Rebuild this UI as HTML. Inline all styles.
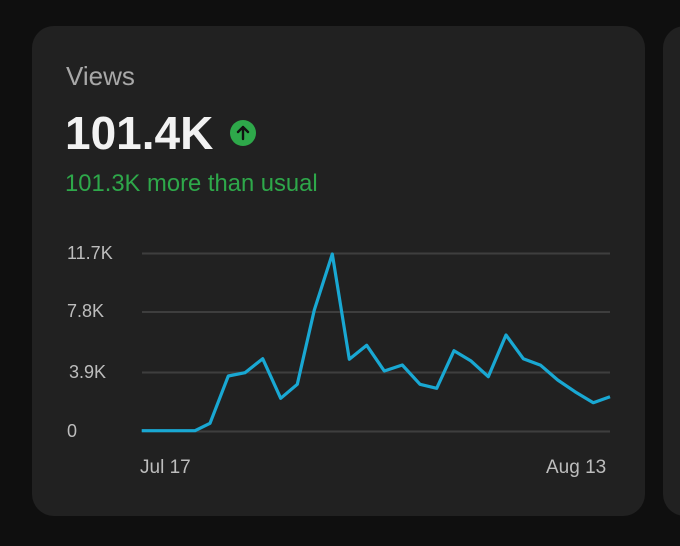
<!DOCTYPE html>
<html><head><meta charset="utf-8"><style>
body{margin:0;width:680px;height:546px;background:#0f0f0f;overflow:hidden;position:relative;font-family:"Liberation Sans",sans-serif}
.card{position:absolute;left:32px;top:26px;width:613px;height:490px;background:#212121;border-radius:22px}
.card2{position:absolute;left:663px;top:26px;width:60px;height:490px;background:#212121;border-radius:22px}
.t{position:absolute;white-space:nowrap}
</style></head><body>
<div class="card"></div><div class="card2"></div>
<div class="t" style="left:66px;top:61px;font-size:26px;color:#a8a8a8">Views</div>
<div class="t" style="left:65px;top:106px;font-size:46px;font-weight:bold;color:#f2f2f2">101.4K</div>
<svg style="position:absolute;left:229px;top:119px" width="28" height="28"><circle cx="14" cy="14" r="13" fill="#2ea84a"/><path d="M14 20V8M9 13l5-5 5 5" stroke="#111" stroke-width="2.4" fill="none" stroke-linecap="round" stroke-linejoin="round"/></svg>
<div class="t" style="left:65px;top:170px;font-size:23.8px;color:#2ea84a">101.3K more than usual</div>
<div class="t" style="left:67px;top:243px;font-size:18px;color:#bdbdbd">11.7K</div>
<div class="t" style="left:67px;top:301px;font-size:18px;color:#bdbdbd">7.8K</div>
<div class="t" style="left:69px;top:362px;font-size:18px;color:#bdbdbd">3.9K</div>
<div class="t" style="left:67px;top:421px;font-size:18px;color:#bdbdbd">0</div>
<div class="t" style="left:140px;top:457px;font-size:19px;color:#bdbdbd">Jul 17</div>
<div class="t" style="left:546px;top:457px;font-size:19px;color:#bdbdbd">Aug 13</div>
<svg style="position:absolute;left:0;top:0" width="680" height="546">
<g stroke="#3e3e3e" stroke-width="2"><line x1="142" y1="253.5" x2="610" y2="253.5"/><line x1="142" y1="312" x2="610" y2="312"/><line x1="142" y1="372.5" x2="610" y2="372.5"/><line x1="142" y1="431.5" x2="610" y2="431.5"/></g>
<polyline fill="none" stroke="#19a8d3" stroke-width="3.2" stroke-linejoin="round" points="141.7,430.7 195,430.7 210,423.3 228.3,376 245,372.7 262.7,358.7 280.7,398.3 297.3,384.3 314.3,310 332.3,254 349.3,359.3 366.7,345.3 384.3,371 402.3,365 420,384.3 436.7,388.3 454,350.7 470.7,360.7 488.3,376.7 506,335 523.3,358.7 540.7,365.3 557.7,380 575,391.7 593.3,402.7 610,396.7"/>
</svg>
</body></html>
